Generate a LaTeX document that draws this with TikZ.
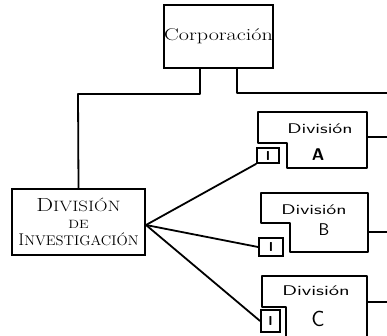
\documentclass[tikz,border=0pt]{standalone}
\usepackage{graphicx}
\begin{document}
\begin{tikzpicture}[x=1pt,y=-1pt,
  ln/.style={line width=1.8pt,line cap=round,line join=round},
  boxn/.style={draw,line width=1.8pt,inner sep=0pt},
  ibox/.style={draw,line width=1.8pt,inner sep=0pt,font=\sffamily\bfseries\fontsize{13}{13}\selectfont},
  lbl/.style={inner sep=0pt,font=\sffamily},
  divl/.style={inner sep=0pt,font=\sffamily\fontsize{14}{14}\selectfont}]
\useasboundingbox (0,0) rectangle (387,335);
% Corporacion
\node[boxn,minimum width=107pt,minimum height=63pt,font=\fontsize{17}{17}\selectfont] (corp) at (218.5,36.5) {\scalebox{1.3}[1]{Corporaci\'on}};
\coordinate (cl) at (200,68);
\coordinate (cr) at (237,68);
\coordinate (crend) at (387,93);
% Division de investigacion
\node[boxn,minimum width=133pt,minimum height=66pt,align=center,inner sep=0pt,
      font=\fontsize{15}{17}\selectfont] (inv) at (78.5,222)
  {\scalebox{1.25}[1]{{\fontsize{19}{17}\selectfont D}IVISI\'ON}\\
   \scalebox{1.2}[1]{\fontsize{12}{17}\selectfont DE}\\
   \scalebox{1.05}[1]{{\fontsize{17}{17}\selectfont I}{\fontsize{14}{17}\selectfont NVESTIGACI\'ON}}};
\draw[ln] (cl) -- (200,94) -- (78,94) -- (inv.north);
\draw[ln] (cr) -- (237,93) -- (crend);
% Division A
\draw[ln] (287,168) -- (287,143) -- (258,143) -- (258,112) -- (367,112) -- (367,168) -- cycle;
\node[divl] (da) at (320,129) {\scalebox{1.45}[1]{Divisi\'on}};
\node[lbl,font=\sffamily\bfseries\fontsize{17}{17}\selectfont] (la) at (318,155) {A};
\node[ibox,minimum width=22pt,minimum height=15pt] (ia) at (268,155.5) {I};
\coordinate (ar) at (367,137);
\coordinate (are) at (387,137);
\draw[ln] (ar) -- (are);
% Division B
\draw[ln] (290,252) -- (290,223) -- (261,223) -- (261,193) -- (368,193) -- (368,252) -- cycle;
\node[divl] (db) at (314,210) {\scalebox{1.45}[1]{Divisi\'on}};
\node[lbl,font=\sffamily\fontsize{17}{17}\selectfont] (lb) at (324,230) {B};
\node[ibox,minimum width=24pt,minimum height=18pt] (ib) at (271,247) {I};
\coordinate (br) at (368,232);
\coordinate (bre) at (387,232);
\draw[ln] (br) -- (bre);
% Division C
\draw[ln] (286,340) -- (286,307) -- (262,307) -- (262,276) -- (367,276) -- (367,340);
\node[divl] (dc) at (316,291) {\scalebox{1.5}[1]{Divisi\'on}};
\node[lbl,font=\sffamily\fontsize{22}{22}\selectfont] (lc) at (318,319) {C};
\node[ibox,minimum width=19pt,minimum height=22pt] (ic) at (270.5,321) {I};
\coordinate (cr2) at (367,302);
\coordinate (cre) at (387,302);
\draw[ln] (cr2) -- (cre);
% fan
\coordinate (fan) at (146,225);
\draw[ln] (fan) -- (ia.south west);
\draw[ln] (fan) -- (ib.west);
\draw[ln] (fan) -- (ic.west);
\end{tikzpicture}
\end{document}
